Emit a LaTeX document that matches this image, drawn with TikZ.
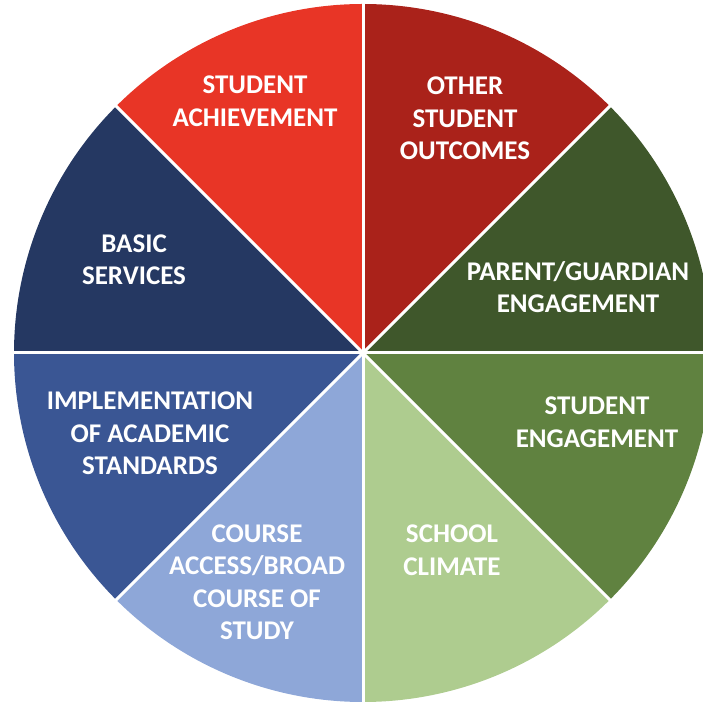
\documentclass[tikz,border=0pt]{standalone}
\usepackage{fontspec}
\setmainfont{Carlito}
\definecolor{cAch}{RGB}{232,53,38}
\definecolor{cOth}{RGB}{170,34,26}
\definecolor{cPar}{RGB}{63,87,43}
\definecolor{cEng}{RGB}{96,130,64}
\definecolor{cSch}{RGB}{174,204,143}
\definecolor{cCou}{RGB}{142,167,216}
\definecolor{cImp}{RGB}{58,86,148}
\definecolor{cBas}{RGB}{37,56,98}
\begin{document}
\begin{tikzpicture}[x=1pt,y=1pt,
  slice/.style={draw=white,line width=3pt,line join=round},
  lbl/.style={text=white,align=center,inner sep=0pt,font=\bfseries\fontsize{27}{32.5}\selectfont}]
\useasboundingbox (0,0) rectangle (703,703);
\clip (0,0) rectangle (703,703);
\coordinate (c) at (363,350);
\def\R{349}
\foreach \a/\col in {90/cAch,45/cOth,0/cPar,-45/cEng,-90/cSch,-135/cCou,180/cImp,135/cBas}{
  \fill[\col] (c) -- ++(\a:\R) arc[start angle=\a,delta angle=45,radius=\R] -- cycle;
}
\foreach \a in {0,45,...,315}{
  \draw[white,line width=3pt] (c) -- ++(\a:\R+2);
}
\node[lbl] (ach) at (255,602) {STUDENT\\ACHIEVEMENT};
\node[lbl] (oth) at (465,584.5) {OTHER\\STUDENT\\OUTCOMES};
\node[lbl] (bas) at (134,443.5) {BASIC\\SERVICES};
\node[lbl] (par) at (578,416) {PARENT/GUARDIAN\\ENGAGEMENT};
\node[lbl] (imp) at (150,269.5) {IMPLEMENTATION\\OF ACADEMIC\\STANDARDS};
\node[lbl] (eng) at (597,281) {STUDENT\\ENGAGEMENT};
\node[lbl] (cou) at (257,121) {COURSE\\ACCESS/BROAD\\COURSE OF\\STUDY};
\node[lbl] (sch) at (452,153) {SCHOOL\\CLIMATE};
\end{tikzpicture}
\end{document}
